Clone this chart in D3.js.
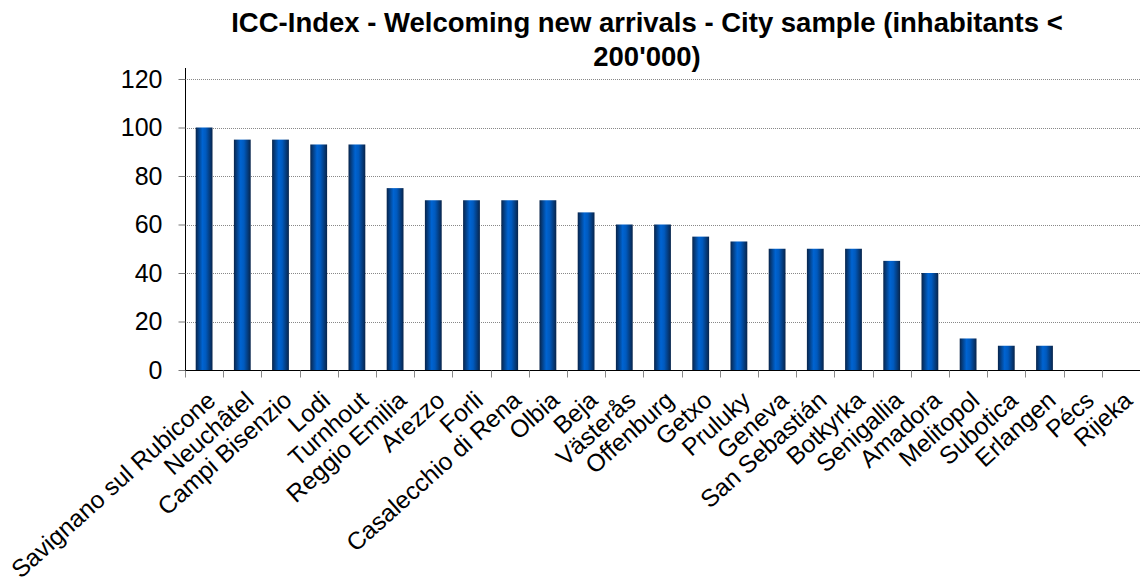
<!DOCTYPE html>
<html>
<head>
<meta charset="utf-8">
<script src="https://cdn.jsdelivr.net/npm/d3@7"></script>
<style>
  body { margin: 0; background: #fff; }
  svg { font-family: "Liberation Sans", Arial, sans-serif; }
  .grid line { stroke: #888; stroke-dasharray: 1,1; }
</style>
</head>
<body>
<div id="chart"></div>
<script>
/* ICC-Index bar chart */

const cities = [
  "Savignano sul Rubicone","Neuchâtel","Campi Bisenzio","Lodi","Turnhout",
  "Reggio Emilia","Arezzo","Forli","Casalecchio di Rena","Olbia","Beja",
  "Västerås","Offenburg","Getxo","Pruluky","Geneva","San Sebastián",
  "Botkyrka","Senigallia","Amadora","Melitopol","Subotica","Erlangen",
  "Pécs","Rijeka",
];
const scores = [
  100, 95, 95, 93, 93, 75, 70, 70, 70, 70, 65, 60, 60, 55, 53,
  50, 50, 50, 45, 40, 13, 10, 10, 0, 0,
];
const yTicks = [0, 20, 40, 60, 80, 100, 120];
const titleLines = [
  "ICC-Index - Welcoming new arrivals - City sample (inhabitants <",
  "200'000)",
];

const W = 1140, H = 587;
const M = { left: 185, right: 0, top: 79, bottom: 217 };

const svg = d3.select("#chart").append("svg")
  .attr("width", W).attr("height", H);

// bar gradient: dark edges, bright blue left of centre
const grad = svg.append("defs").append("linearGradient")
  .attr("id", "barGrad").attr("x1", "0%").attr("x2", "100%");
grad.append("stop").attr("offset", "0%").attr("stop-color", "#08244a");
grad.append("stop").attr("offset", "40%").attr("stop-color", "#0064d2");
grad.append("stop").attr("offset", "60%").attr("stop-color", "#005abf");
grad.append("stop").attr("offset", "100%").attr("stop-color", "#08244a");

const x = d3.scaleBand().domain(cities)
  .range([M.left, W - M.right]).paddingInner(0.56).paddingOuter(0.28);
const y = d3.scaleLinear().domain([0, 120]).range([H - M.bottom, M.top]);

// title
svg.append("g").selectAll("text")
  .data(titleLines).join("text")
  .attr("x", 647).attr("y", (d, i) => 32 + i * 34)
  .attr("text-anchor", "middle")
  .attr("font-size", 27.5).attr("font-weight", "bold")
  .text(d => d);

// gridlines
svg.append("g").attr("class", "grid")
  .selectAll("line").data(yTicks.filter(t => t > 0)).join("line")
  .attr("x1", M.left).attr("x2", W - M.right)
  .attr("y1", d => Math.round(y(d)) + 0.5).attr("y2", d => Math.round(y(d)) + 0.5);

// bars
svg.append("g").selectAll("rect")
  .data(cities).join("rect")
  .attr("x", d => x(d))
  .attr("width", x.bandwidth())
  .attr("y", (d, i) => y(scores[i]))
  .attr("height", (d, i) => y(0) - y(scores[i]))
  .attr("fill", "url(#barGrad)");

// y axis
const yAxis = svg.append("g")
  .attr("transform", `translate(${M.left + 0.5},0)`)
  .call(d3.axisLeft(y).tickValues(yTicks).tickSize(7).tickPadding(16));
yAxis.select(".domain").attr("stroke", "#000").attr("d", `M0,${y(0)}V68`);
yAxis.selectAll(".tick line").attr("stroke", "#777");
yAxis.selectAll("text").attr("font-size", 25).attr("fill", "#000")
  .attr("font-family", "'Liberation Sans', Arial, sans-serif");

// x axis: ticks at band boundaries
const step = x.step();
const xAxis = svg.append("g").attr("transform", `translate(0,${Math.round(y(0)) + 0.5})`);
xAxis.append("line").attr("x1", M.left).attr("x2", W).attr("stroke", "#000");
xAxis.selectAll(".xt").data(d3.range(cities.length + 1)).join("line")
  .attr("class", "xt")
  .attr("x1", i => Math.round(M.left + i * step) + 0.5)
  .attr("x2", i => Math.round(M.left + i * step) + 0.5)
  .attr("y1", 0).attr("y2", 7)
  .attr("stroke", "#888");

xAxis.selectAll(".xl").data(cities).join("text")
  .attr("class", "xl")
  .attr("font-size", 24.5)
  .attr("text-anchor", "end")
  .attr("transform", d => `translate(${x(d) + x.bandwidth() / 2 + 13},${32}) rotate(-42)`)
  .text(d => d);
</script>
</body>
</html>
